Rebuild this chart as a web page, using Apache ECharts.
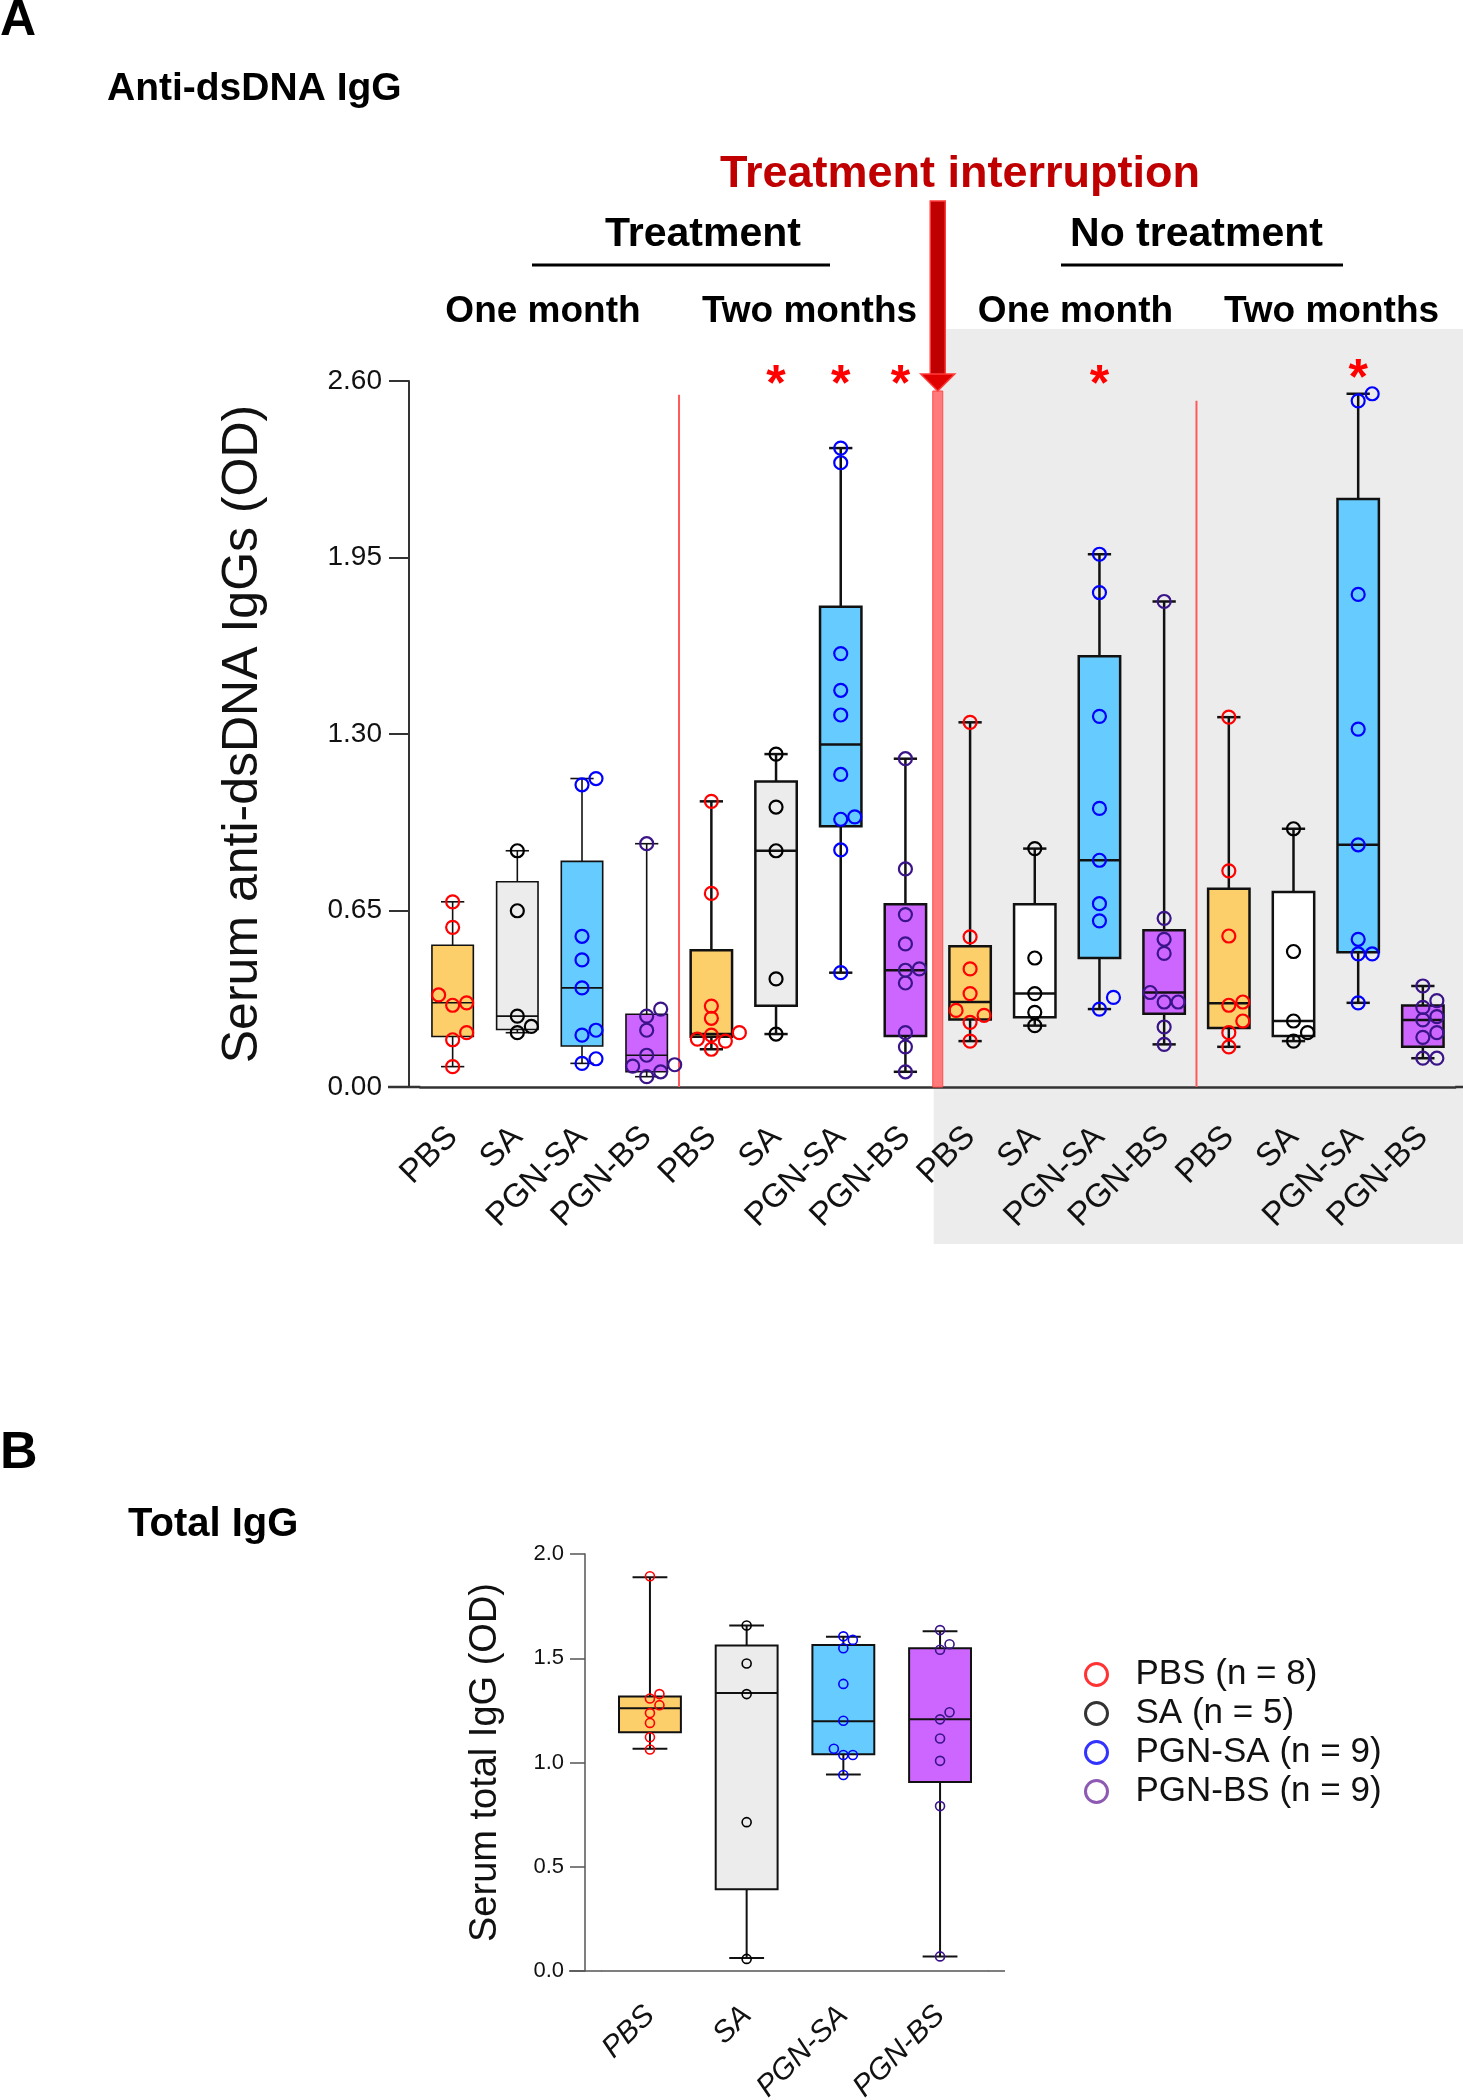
<!DOCTYPE html>
<html>
<head>
<meta charset="utf-8">
<script src="https://cdn.jsdelivr.net/npm/echarts@6/dist/echarts.min.js"></script>
<style>
  html, body { margin: 0; padding: 0; background: #fff; }
  #chart { width: 1463px; height: 2100px; }
</style>
</head>
<body>
<div id="chart"></div>
<script>
var FONT = '"Liberation Sans", Arial, sans-serif';

// ---- data ----
var groupNames = ['PBS', 'SA', 'PGN-SA', 'PGN-BS'];
var catsA = groupNames.concat(groupNames, groupNames, groupNames);
var catsB = groupNames;

// panel A: individual values, one list per box (left to right)
var pointsA = [
  [0.682, 0.588, 0.339, 0.301, 0.310, 0.200, 0.174, 0.075],
  [0.870, 0.649, 0.261, 0.223, 0.200],
  [1.113, 1.136, 0.555, 0.468, 0.365, 0.191, 0.209, 0.087, 0.104],
  [0.896, 0.287, 0.261, 0.209, 0.117, 0.082, 0.077, 0.056, 0.038],
  [1.052, 0.713, 0.298, 0.253, 0.200, 0.191, 0.176, 0.169, 0.139],
  [1.226, 1.031, 0.870, 0.398, 0.195],
  [2.353, 2.299, 1.596, 1.461, 1.370, 1.151, 0.995, 0.986, 0.873, 0.421],
  [1.209, 0.803, 0.635, 0.527, 0.435, 0.430, 0.383, 0.200, 0.148, 0.056],
  [1.343, 0.553, 0.435, 0.344, 0.282, 0.264, 0.238, 0.169],
  [0.878, 0.475, 0.344, 0.275, 0.226],
  [1.962, 1.821, 1.365, 1.026, 0.835, 0.675, 0.612, 0.330, 0.287],
  [1.788, 0.621, 0.544, 0.492, 0.348, 0.313, 0.313, 0.221, 0.157],
  [1.362, 0.796, 0.556, 0.313, 0.301, 0.243, 0.200, 0.148],
  [0.951, 0.499, 0.243, 0.200, 0.169],
  [2.553, 2.527, 1.814, 1.318, 0.892, 0.544, 0.490, 0.490, 0.310],
  [0.372, 0.318, 0.293, 0.259, 0.247, 0.200, 0.183, 0.106, 0.106]
];
// [min, q1, median, q3, max]
var boxesA = [
  [0.075, 0.186, 0.310, 0.522, 0.682],
  [0.200, 0.212, 0.261, 0.756, 0.870],
  [0.087, 0.151, 0.365, 0.831, 1.136],
  [0.038, 0.056, 0.117, 0.268, 0.896],
  [0.139, 0.185, 0.195, 0.504, 1.052],
  [0.195, 0.299, 0.870, 1.125, 1.226],
  [0.421, 0.960, 1.261, 1.769, 2.353],
  [0.056, 0.188, 0.430, 0.673, 1.209],
  [0.169, 0.249, 0.313, 0.518, 1.343],
  [0.226, 0.257, 0.344, 0.673, 0.878],
  [0.287, 0.475, 0.835, 1.586, 1.962],
  [0.157, 0.270, 0.348, 0.577, 1.788],
  [0.148, 0.217, 0.308, 0.730, 1.362],
  [0.169, 0.188, 0.243, 0.718, 0.951],
  [0.310, 0.496, 0.892, 2.165, 2.553],
  [0.106, 0.148, 0.247, 0.300, 0.372]
];
var significantA = [5, 6, 7, 10, 14];

// panel B
var pointsB = [
  [1.893, 1.328, 1.307, 1.275, 1.237, 1.190, 1.121, 1.062],
  [1.657, 1.475, 1.328, 0.714, 0.058],
  [1.605, 1.588, 1.548, 1.377, 1.200, 1.066, 1.036, 1.036, 0.940],
  [1.635, 1.567, 1.541, 1.241, 1.207, 1.115, 1.008, 0.791, 0.070]
];
var boxesB = [
  [1.066, 1.145, 1.260, 1.316, 1.889],
  [0.062, 0.392, 1.333, 1.561, 1.657],
  [0.942, 1.040, 1.198, 1.563, 1.603],
  [0.070, 0.906, 1.207, 1.548, 1.629]
];
var legendNames = ['PBS (n = 8)', 'SA (n = 5)', 'PGN-SA (n = 9)', 'PGN-BS (n = 9)'];

// ---- styles ----
var pointColors = ['#ff0000', '#000000', '#0000ff', '#3a1488'];
var legendColors = ['#ff0000', '#000000', '#0000ff', '#7030a0'];
var boxFills = ['#fdcf6b', '#ececec', '#66ccff', '#cc66ff'];

var A = { left: 420.3, top: 381, width: 1034.9, height: 706, max: 2.6 };
var B = { left: 601.6, top: 1554, width: 386.8, height: 417, max: 2 };

// simple beeswarm: spreads overlapping points sideways (pixel offsets)
function swarm(vals, ppu, step, dmin) {
  var order = vals.map(function (v, k) { return k; }).sort(function (a, b) { return vals[a] - vals[b]; });
  var placed = [], off = [];
  order.forEach(function (k) {
    var y = vals[k] * ppu;
    for (var j = 0; ; j++) {
      var o = j === 0 ? 0 : (j % 2 ? 1 : -1) * Math.ceil(j / 2) * step;
      var ok = placed.every(function (p) { return Math.hypot(p.x - o, p.y - y) >= dmin; });
      if (ok) { placed.push({ x: o, y: y }); off[k] = o; break; }
    }
  });
  return off;
}

function pointData(points, ppu, step, dmin) {
  var out = [];
  points.forEach(function (vals, i) {
    var off = swarm(vals, ppu, step, dmin);
    vals.forEach(function (v, k) { out.push([i, v, off[k], i % 4]); });
  });
  return out;
}

function boxData(boxes) {
  return boxes.map(function (b, i) { return [i].concat(b, [i % 4, Math.floor(i / 4)]); });
}

function boxRenderer(lineWidthFor, fillFor) {
  return function (params, api) {
    var i = api.value(0);
    var x = api.coord([i, api.value(1)])[0];
    var y = [1, 2, 3, 4, 5].map(function (k) { return api.coord([i, api.value(k)])[1]; });
    var band = api.size([1, 0], [i, 0])[0];
    var bw = band * 0.64, cw = band * 0.36;
    var t = api.value(6), g = api.value(7);
    var lw = lineWidthFor(g);
    var st = { stroke: '#111', lineWidth: lw };
    return {
      type: 'group',
      children: [
        { type: 'line', shape: { x1: x, y1: y[4], x2: x, y2: y[3] }, style: st },
        { type: 'line', shape: { x1: x, y1: y[1], x2: x, y2: y[0] }, style: st },
        { type: 'line', shape: { x1: x - cw / 2, y1: y[4], x2: x + cw / 2, y2: y[4] }, style: st },
        { type: 'line', shape: { x1: x - cw / 2, y1: y[0], x2: x + cw / 2, y2: y[0] }, style: st },
        { type: 'rect', shape: { x: x - bw / 2, y: y[3], width: bw, height: y[1] - y[3] },
          style: { fill: fillFor(t, g), stroke: '#111', lineWidth: lw } },
        { type: 'line', shape: { x1: x - bw / 2, y1: y[2], x2: x + bw / 2, y2: y[2] }, style: st }
      ]
    };
  };
}

function pointRenderer(r, lw) {
  return function (params, api) {
    var p = api.coord([api.value(0), api.value(1)]);
    return {
      type: 'circle',
      shape: { cx: p[0] + api.value(2), cy: p[1], r: r },
      style: { fill: 'transparent', stroke: pointColors[api.value(3)], lineWidth: lw }
    };
  };
}

var chart = echarts.init(document.getElementById('chart'), null, { renderer: 'canvas' });

var starData = significantA.map(function (i) {
  return [i, Math.max(2.62, boxesA[i][4] + 0.09)];
});

var option = {
  animation: false,
  backgroundColor: '#ffffff',
  textStyle: { fontFamily: FONT },
  grid: [
    { left: A.left, top: A.top, width: A.width, height: A.height, outerBoundsMode: 'none' },
    { left: B.left, top: B.top, width: B.width, height: B.height, outerBoundsMode: 'none' }
  ],
  xAxis: [
    {
      gridIndex: 0, type: 'category', data: catsA,
      axisLine: { lineStyle: { color: '#333', width: 2.5 } },
      axisTick: { alignWithLabel: true, length: 23, lineStyle: { color: '#333', width: 2 } },
      axisLabel: { rotate: 45, interval: 0, fontSize: 33, color: '#111', margin: 45, fontFamily: FONT },
      splitLine: { show: false }
    },
    {
      gridIndex: 1, type: 'category', data: catsB,
      axisLine: { lineStyle: { color: '#555', width: 1.5 } },
      axisTick: { alignWithLabel: true, length: 16, lineStyle: { color: '#555', width: 1.5 } },
      axisLabel: { rotate: 45, interval: 0, fontSize: 30, fontStyle: 'italic', color: '#111', margin: 40, fontFamily: FONT },
      splitLine: { show: false }
    }
  ],
  yAxis: [
    {
      gridIndex: 0, type: 'value', min: 0, max: 2.6, interval: 0.65, offset: A.left - 409,
      axisLine: { show: true, lineStyle: { color: '#333', width: 2 } },
      axisTick: { show: true, length: 20, lineStyle: { color: '#333', width: 2 } },
      axisLabel: { fontSize: 28, color: '#111', margin: 27, fontFamily: FONT,
        formatter: function (v) { return v.toFixed(2); } },
      splitLine: { show: false },
      name: 'Serum anti-dsDNA IgGs (OD)', nameLocation: 'middle', nameGap: 141, nameRotate: 90,
      nameTextStyle: { fontSize: 50, color: '#111', fontFamily: FONT }
    },
    {
      gridIndex: 1, type: 'value', min: 0, max: 2, interval: 0.5, offset: B.left - 585,
      axisLine: { show: true, lineStyle: { color: '#555', width: 1.5 } },
      axisTick: { show: true, length: 15, lineStyle: { color: '#555', width: 1.5 } },
      axisLabel: { fontSize: 22, color: '#111', margin: 21, fontFamily: FONT,
        formatter: function (v) { return v.toFixed(1); } },
      splitLine: { show: false },
      name: 'Serum total IgG (OD)', nameLocation: 'middle', nameGap: 80, nameRotate: 90,
      nameTextStyle: { fontSize: 38, color: '#111', fontFamily: FONT }
    }
  ],
  legend: {
    orient: 'vertical', left: 1079, top: 1652,
    itemWidth: 68, itemHeight: 22, itemGap: 4,
    textStyle: { fontSize: 35, lineHeight: 35, color: '#111', fontFamily: FONT },
    data: legendNames.map(function (n, k) {
      return { name: n, icon: 'circle',
        itemStyle: { color: 'transparent', borderColor: legendColors[k], borderWidth: 3 } };
    })
  },
  series: [
    {
      type: 'custom', xAxisIndex: 0, yAxisIndex: 0, z: 3,
      renderItem: boxRenderer(function (g) { return g === 0 ? 1.6 : 2.5; },
        function (t, g) { return (t === 1 && g >= 2) ? '#ffffff' : boxFills[t]; }),
      encode: { x: 0, y: [1, 2, 3, 4, 5] },
      data: boxData(boxesA)
    },
    {
      type: 'custom', xAxisIndex: 0, yAxisIndex: 0, z: 4,
      renderItem: pointRenderer(6.5, 2.2),
      encode: { x: 0, y: 1 },
      data: pointData(pointsA, A.height / A.max, 14, 12)
    },
    {
      type: 'custom', xAxisIndex: 0, yAxisIndex: 0, z: 4,
      renderItem: function (params, api) {
        var i = api.value(0);
        var p = api.coord([i, api.value(1)]);
        // the star next to the interruption arrow sits a little to the left
        var dx = (i === 7) ? -5 : 0;
        return { type: 'text', x: p[0] + dx, y: p[1] + 11,
          style: { text: '*', fill: '#ff0000', font: 'bold 50px ' + FONT,
            align: 'center', verticalAlign: 'middle', textAlign: 'center', textVerticalAlign: 'middle' } };
      },
      encode: { x: 0, y: 1 },
      data: starData
    },
    {
      type: 'custom', xAxisIndex: 1, yAxisIndex: 1, z: 3,
      renderItem: boxRenderer(function () { return 2; }, function (t) { return boxFills[t]; }),
      encode: { x: 0, y: [1, 2, 3, 4, 5] },
      data: boxData(boxesB)
    },
    {
      type: 'custom', xAxisIndex: 1, yAxisIndex: 1, z: 4,
      renderItem: pointRenderer(4.5, 1.6),
      encode: { x: 0, y: 1 },
      data: pointData(pointsB, B.height / B.max, 9.5, 9.5)
    }
  ].concat(legendNames.map(function (n, k) {
    return { type: 'scatter', name: n, xAxisIndex: 1, yAxisIndex: 1, data: [],
      itemStyle: { color: 'transparent', borderColor: legendColors[k], borderWidth: 3 } };
  }))
};

chart.setOption(option);

// ---- annotations placed from the axes ----
function pxA(i, v) { return chart.convertToPixel({ xAxisIndex: 0, yAxisIndex: 0 }, [i, v]); }
function midA(i) { return (pxA(i, 0)[0] + pxA(i + 1, 0)[0]) / 2; }
var y0A = pxA(0, 0)[1];
var y0B = chart.convertToPixel({ xAxisIndex: 1, yAxisIndex: 1 }, [0, 0])[1];
var xCut = midA(7);

function txt(s, x, y, size, color, align) {
  return { type: 'text', x: x, y: y, z: 10,
    style: { text: s, fill: color || '#000', font: 'bold ' + size + 'px ' + FONT,
      align: align || 'center', textAlign: align || 'center',
      verticalAlign: 'middle', textVerticalAlign: 'middle' } };
}
function line(x1, y1, x2, y2, color, w, z) {
  return { type: 'line', z: z == null ? 1 : z, shape: { x1: x1, y1: y1, x2: x2, y2: y2 },
    style: { stroke: color, lineWidth: w } };
}

chart.setOption({
  graphic: [
    { type: 'rect', z: -1, shape: { x: xCut - 4, y: 329, width: 1463 - xCut + 4, height: 1244 - 329 },
      style: { fill: '#ececec' } },
    line(midA(3), pxA(0, 2.549)[1], midA(3), y0A, '#ff5a5a', 2),
    line(midA(11), pxA(0, 2.527)[1], midA(11), y0A, '#ff5a5a', 2),
    { type: 'rect', z: 1, shape: { x: xCut - 5, y: 391, width: 10, height: y0A - 391 },
      style: { fill: '#ff7a7a', stroke: '#ff4d4d', lineWidth: 1 } },
    { type: 'rect', z: 6, shape: { x: xCut - 7.5, y: 201, width: 15, height: 174 },
      style: { fill: '#c00000', stroke: '#ff3b3b', lineWidth: 1.5 } },
    { type: 'polygon', z: 6, shape: { points: [[xCut - 17, 374], [xCut + 17, 374], [xCut, 391]] },
      style: { fill: '#e00000', stroke: '#ff3b3b', lineWidth: 1.5 } },
    // axis line extensions
    line(388, y0A, A.left, y0A, '#333', 2.5, 2),
    line(A.left + A.width, y0A, 1463, y0A, '#333', 2.5, 2),
    line(569, y0B, B.left, y0B, '#555', 1.5, 2),
    line(B.left + B.width, y0B, 1005, y0B, '#555', 1.5, 2),
    // headings
    txt('A', 0, 21, 50, '#000', 'left'),
    txt('Anti-dsDNA IgG', 107, 89.5, 39, '#000', 'left'),
    txt('Treatment interruption', 960, 175, 45, '#c00000'),
    txt('Treatment', 703, 235, 41),
    txt('No treatment', 1196.5, 235, 41),
    line(532, 265, 830, 265, '#000', 3, 2),
    line(1061, 265, 1343, 265, '#000', 3, 2),
    txt('One month', 543, 311.5, 37),
    txt('Two months', 809.5, 311.5, 37),
    txt('One month', 1075.5, 311.5, 37),
    txt('Two months', 1331.5, 311.5, 37),
    txt('B', 0, 1454, 52, '#000', 'left'),
    txt('Total IgG', 128, 1525, 40, '#000', 'left')
  ]
});
</script>
</body>
</html>
